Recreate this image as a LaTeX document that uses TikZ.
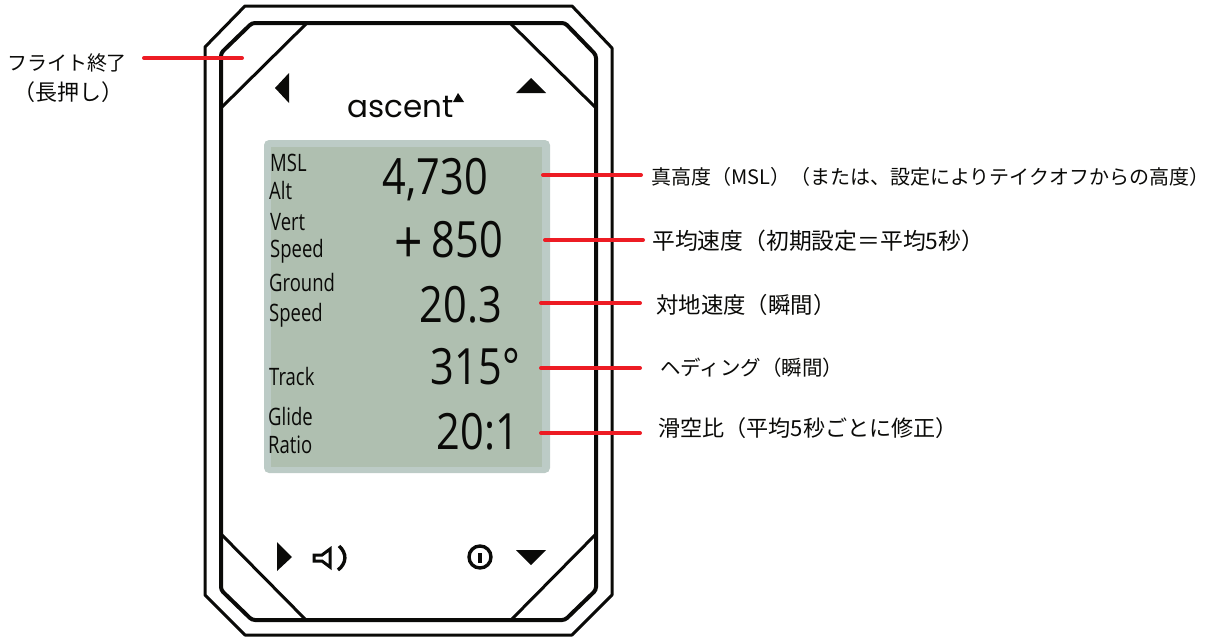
\documentclass[tikz,border=0pt]{standalone}
\usepackage{fontspec}
\setmainfont{Open Sans}
\newfontfamily\condfont[FakeStretch=0.77]{Open Sans}
\newfontfamily\bigfont[FakeStretch=0.83]{Open Sans}
\newfontfamily\logofont{Poppins}
\newfontfamily\cjk{Noto Sans CJK JP}
\definecolor{leadred}{HTML}{ED1C24}
\definecolor{lcdrim}{HTML}{BCCBC6}
\definecolor{lcdface}{HTML}{AFBFB0}
\definecolor{ink}{HTML}{0A0A08}
\tikzset{
  shell/.style={draw=ink,line width=3pt,line join=round},
  bezel/.style={draw=ink,line width=4pt,rounded corners=3pt},
  keyline/.style={draw=ink,line width=3pt},
  glyph/.style={fill=ink,draw=none},
  lead/.style={draw=leadred,line width=4pt,line cap=round},
  lcdsmall/.style={anchor=base west,inner sep=0pt,text=ink,font=\condfont\fontsize{24}{24}\selectfont},
  lcdbig/.style={anchor=base east,inner sep=0pt,text=ink,font=\bigfont\fontsize{50}{50}\selectfont},
  note/.style={anchor=west,inner sep=0pt,text=ink,font=\cjk\fontsize{#1}{#1}\selectfont},
  notec/.style={anchor=center,inner sep=0pt,text=ink,font=\cjk\fontsize{#1}{#1}\selectfont}
}
\begin{document}
\begin{tikzpicture}[x=1pt,y=-1pt]
\useasboundingbox (0,0) rectangle (1216,637);
% body
\draw[shell] (245,6) -- (572,6) -- (612,48) -- (612,595) -- (572,635) -- (245,635) -- (205,595) -- (205,47) -- cycle;
\draw[bezel] (252,23) -- (565,23) -- (596,55) -- (596,590) -- (565,620) -- (252,620) -- (221,590) -- (221,53) -- cycle;
% key corners
\draw[keyline] (306,24) -- (222,107);
\draw[keyline] (511,24) -- (595,107);
\draw[keyline] (222,535) -- (305,619);
\draw[keyline] (595,535) -- (512,619);
% key glyphs
\fill[glyph] (275,88) -- (289,73) -- (289,103) -- cycle;
\fill[glyph] (531,78) -- (516,93) -- (546,93) -- cycle;
\fill[glyph] (277,542) -- (292,557) -- (277,571) -- cycle;
\fill[glyph] (516,550) -- (546,550) -- (531,565) -- cycle;
\draw[draw=ink,line width=3pt,line join=miter] (314,555) -- (322,555) -- (330,549) -- (330,567) -- (322,561) -- (314,561) -- cycle;
\draw[draw=ink,line width=3.4pt] (339,546) .. controls (347,553) and (347,563) .. (338,570);
\draw[draw=ink,line width=3.4pt] (480,557) circle (11);
\fill[glyph] (478.2,552.5) rectangle (481.8,562.5);
% logo
\node[anchor=base west,inner sep=0pt,text=ink,font=\logofont\fontsize{31}{31}\selectfont] (logo) at (347,117) {ascent};
\fill[glyph] (458,93) -- (453,102) -- (464,102) -- cycle;
% screen
\fill[lcdrim,rounded corners=5pt] (264,140) rectangle (550,473);
\fill[lcdface] (271,147) rectangle (542,467);
\node[lcdsmall] (tmsl) at (270,171) {MSL};
\node[lcdsmall] (talt) at (269,199) {Alt};
\node[lcdsmall] (tvert) at (270,230) {Vert};
\node[lcdsmall] (tsp1) at (270,257) {Speed};
\node[lcdsmall] (tgr) at (269,291) {Ground};
\node[lcdsmall] (tsp2) at (269,321) {Speed};
\node[lcdsmall] (ttr) at (269,385) {Track};
\node[lcdsmall] (tgl) at (268,425) {Glide};
\node[lcdsmall] (tra) at (268,453) {Ratio};
\node[lcdbig] (v1) at (488,194) {4,730};
\node[lcdbig] (v2) at (503,257) {\raisebox{-6pt}{\fontsize{60}{60}\selectfont +}\,850};
\node[lcdbig] (v3) at (502,322) {20.3};
\node[lcdbig] (v4) at (520,384) {315°};
\node[lcdbig] (v5) at (519,449) {20:1};
% labels
\node[note=20] (n1) at (651,177) {真高度（MSL）（または、設定によりテイクオフからの高度）};
\node[note=22.8] (n2) at (652,241) {平均速度（初期設定＝平均5秒）};
\node[note=22.4] (n3) at (656,305) {対地速度（瞬間）};
\node[note=20.5] (n4) at (660,368) {ヘディング（瞬間）};
\node[note=22.1] (n5) at (658,428) {滑空比（平均5秒ごとに修正）};
\node[notec=20] (n0) at (67,63) {フライト終了};
\node[notec=22] (n0b) at (68,92) {（長押し）};
% connectors
\coordinate (a1) at (543,175); \coordinate (b1) at (641,175);
\coordinate (a2) at (545,240); \coordinate (b2) at (643,240);
\coordinate (a3) at (541,303); \coordinate (b3) at (640,303);
\coordinate (a4) at (541,368); \coordinate (b4) at (640,368);
\coordinate (a5) at (541,433); \coordinate (b5) at (640,433);
\coordinate (a0) at (144,58); \coordinate (b0) at (242,58);
\draw[lead] (a1) -- (b1);
\draw[lead] (a2) -- (b2);
\draw[lead] (a3) -- (b3);
\draw[lead] (a4) -- (b4);
\draw[lead] (a5) -- (b5);
\draw[lead] (a0) -- (b0);
\end{tikzpicture}
\end{document}
